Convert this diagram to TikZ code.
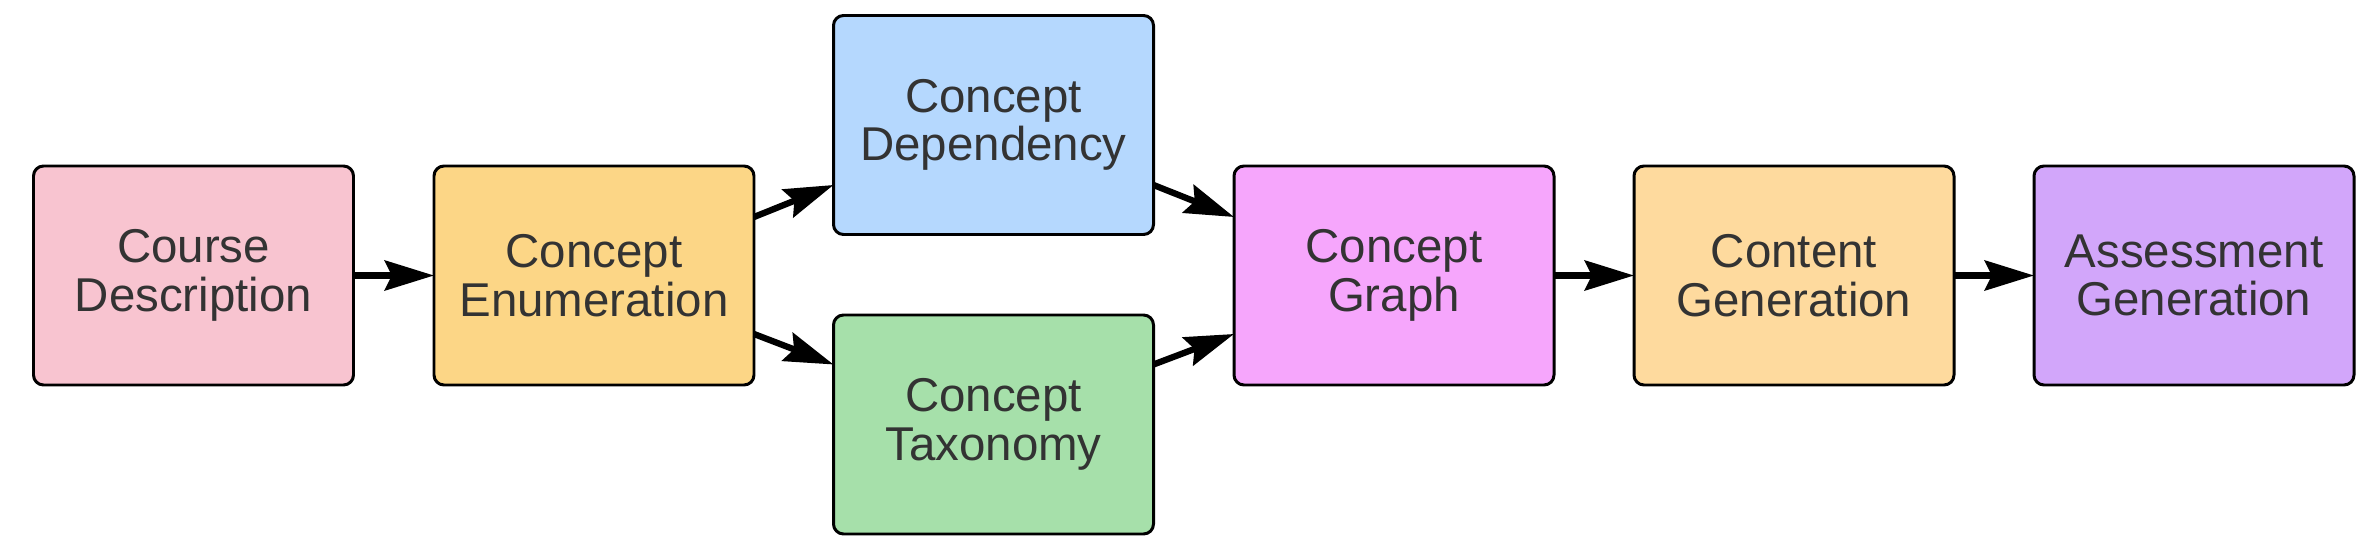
\documentclass[tikz,border=0pt]{standalone}
\usepackage{fontspec}
\setmainfont{Liberation Sans}
\usetikzlibrary{arrows.meta}
\definecolor{cdpink}{RGB}{248,196,208}
\definecolor{enumorange}{RGB}{252,214,134}
\definecolor{depblue}{RGB}{181,216,254}
\definecolor{taxgreen}{RGB}{166,224,170}
\definecolor{graphpink}{RGB}{246,166,252}
\definecolor{genorange}{RGB}{254,218,158}
\definecolor{assesspurple}{RGB}{210,166,250}
\definecolor{txtgray}{RGB}{51,51,51}

\begin{document}
\begin{tikzpicture}[box/.style={draw=black,line width=0.85pt,rounded corners=0.1cm,minimum width=3.2cm,minimum height=2.19cm,inner sep=0pt,outer sep=0pt,align=center,text=txtgray,font=\fontsize{13.5}{13.8}\selectfont},
  arr/.style={line width=1.8pt,-{Stealth[length=14pt,width=8.5pt,inset=2pt]}}]
  \useasboundingbox (0,0) rectangle (23.66,5.48);
  % main row, boxes 4cm apart
  \node[box,fill=cdpink] (course) at (1.935,2.725) {Course\\Description};
  \node[box,fill=enumorange] (enum) at (5.94,2.725) {Concept\\Enumeration};
  \node[box,fill=graphpink] (graph) at (13.94,2.725) {Concept\\Graph};
  \node[box,fill=genorange] (content) at (17.94,2.725) {Content\\Generation};
  \node[box,fill=assesspurple] (assess) at (21.94,2.725) {Assessment\\Generation};
  % the two branches
  \node[box,fill=depblue] (dep) at (9.935,4.23) {Concept\\Dependency};
  \node[box,fill=taxgreen] (tax) at (9.935,1.235) {Concept\\Taxonomy};
  % connectors
  \draw[arr] (course) -- (enum);
  \draw[arr] ([yshift=0.585cm]enum.east) -- ([yshift=-0.6cm]dep.west);
  \draw[arr] ([yshift=-0.585cm]enum.east) -- ([yshift=0.6cm]tax.west);
  \draw[arr] ([yshift=-0.6cm]dep.east) -- ([yshift=0.585cm]graph.west);
  \draw[arr] ([yshift=0.6cm]tax.east) -- ([yshift=-0.585cm]graph.west);
  \draw[arr] (graph) -- (content);
  \draw[arr] (content) -- (assess);
\end{tikzpicture}
\end{document}
